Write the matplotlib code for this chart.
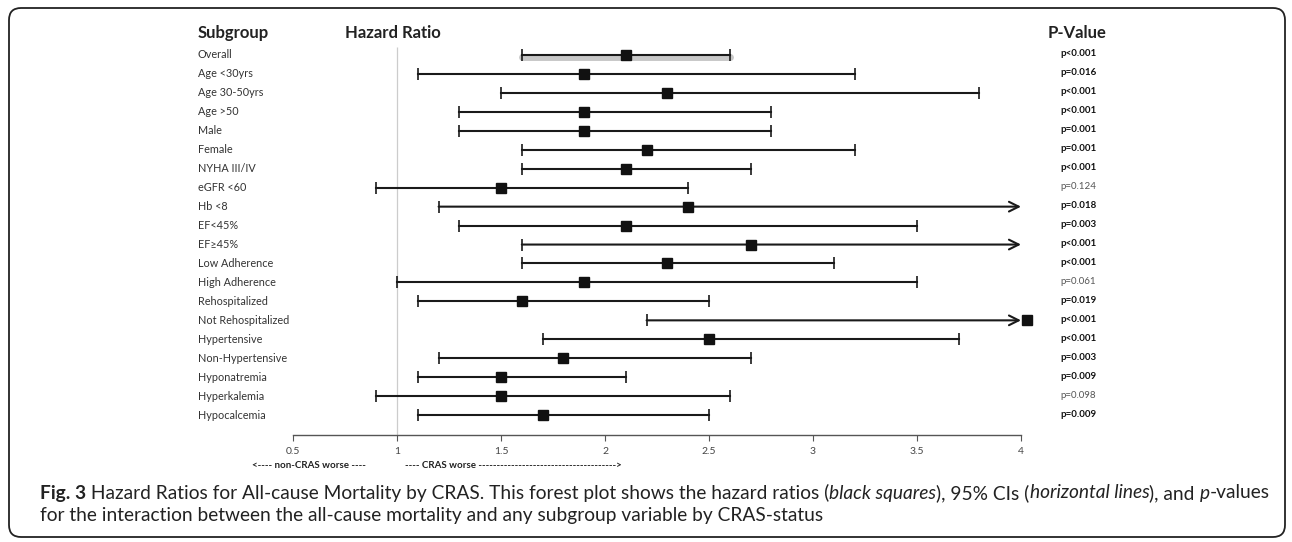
import matplotlib
matplotlib.use("Agg")
import matplotlib.pyplot as plt
import matplotlib.transforms as mtransforms
from matplotlib.patches import FancyBboxPatch
import numpy as np

# data
subgroups = ["Overall", "Age <30yrs", "Age 30-50yrs", "Age >50", "Male", "Female",
             "NYHA III/IV", "eGFR <60", "Hb <8", "EF<45%", "EF\u226545%", "Low Adherence",
             "High Adherence", "Rehospitalized", "Not Rehospitalized", "Hypertensive",
             "Non-Hypertensive", "Hyponatremia", "Hyperkalemia", "Hypocalcemia"]
hr = [2.1, 1.9, 2.3, 1.9, 1.9, 2.2, 2.1, 1.5, 2.4, 2.1, 2.7, 2.3, 1.9, 1.6, 4.03,
      2.5, 1.8, 1.5, 1.5, 1.7]
ci_low = [1.6, 1.1, 1.5, 1.3, 1.3, 1.6, 1.6, 0.9, 1.2, 1.3, 1.6, 1.6, 1.0, 1.1, 2.2,
          1.7, 1.2, 1.1, 0.9, 1.1]
# np.inf = upper limit runs off the axis (drawn as an arrow)
ci_high = [2.6, 3.2, 3.8, 2.8, 2.8, 3.2, 2.7, 2.4, np.inf, 3.5, np.inf, 3.1, 3.5, 2.5,
           np.inf, 3.7, 2.7, 2.1, 2.6, 2.5]
p_text = ["p<0.001", "p=0.016", "p<0.001", "p<0.001", "p=0.001", "p=0.001", "p<0.001",
          "p=0.124", "p=0.018", "p=0.003", "p<0.001", "p<0.001", "p=0.061", "p=0.019",
          "p<0.001", "p<0.001", "p=0.003", "p=0.009", "p=0.098", "p=0.009"]
p_num = [0.001, 0.016, 0.001, 0.001, 0.001, 0.001, 0.001, 0.124, 0.018, 0.003, 0.001,
         0.001, 0.061, 0.019, 0.001, 0.001, 0.003, 0.009, 0.098, 0.009]
xticks = [0.5, 1, 1.5, 2, 2.5, 3, 3.5, 4]

W, H = 1292, 542
FONT = ["Lato", "DejaVu Sans"]
CAP_FONT = ["Liberation Sans Narrow", "Lato", "DejaVu Sans"]
plt.rcParams["font.family"] = FONT

fig = plt.figure(figsize=(W / 100, H / 100), dpi=100)
# pixel coordinates, origin top-left
pix = mtransforms.Affine2D().scale(1 / W, -1 / H).translate(0, 1) + fig.transFigure

ax = fig.add_axes([293 / W, (H - 435) / H, 728 / W, 390 / H])
xmin, xmax = 0.5, 4
ax.set_xlim(xmin, xmax)
ax.set_ylim(20.05, -0.53)
for s in ["top", "right", "left"]:
    ax.spines[s].set_visible(False)
ax.spines["bottom"].set_color("#555555")
ax.spines["bottom"].set_linewidth(1.0)
ax.set_yticks([])
ax.set_xticks(xticks)
ax.set_xticklabels([f"{t:g}" for t in xticks])
ax.tick_params(axis="x", direction="out", length=4, width=0.8, color="#555555",
               labelsize=7.5, labelcolor="#444444", pad=5)

ax.vlines(1, 0.1 - 0.5, 20.05, color="#cccccc", lw=0.9, zorder=1)

y = np.arange(len(subgroups))
line_c = "#1a1a1a"

# shadow band behind the overall estimate
shadow = mtransforms.offset_copy(ax.transData, fig=fig, x=0, y=-2, units="dots")
ax.plot([ci_low[0], ci_high[0]], [y[0], y[0]], color="#c8c8c8", lw=5,
        solid_capstyle="round", transform=shadow, zorder=1)

for i in range(len(subgroups)):
    lo, hi, est = ci_low[i], ci_high[i], hr[i]
    if np.isinf(hi):
        ax.annotate("", xy=(xmax, y[i]), xytext=(lo, y[i]),
                    arrowprops=dict(arrowstyle="->,head_length=0.7,head_width=0.35",
                                    color=line_c, lw=1.5, shrinkA=0, shrinkB=0),
                    zorder=2, annotation_clip=False)
        ends = [lo]
    else:
        ax.plot([lo, hi], [y[i], y[i]], color=line_c, lw=1.5, zorder=2)
        ends = [lo, hi]
    ax.plot(ends, [y[i]] * len(ends), ls="none", marker="|", ms=8, mew=1.2,
            color=line_c, zorder=2)
    ax.plot([est], [y[i]], ls="none", marker="s", ms=6.8, color="#111111",
            zorder=3, clip_on=False)

# row labels and p-values
for i, name in enumerate(subgroups):
    yp = 55 + 18.95 * i
    fig.text(198, yp, name, transform=pix, fontsize=7.8, color="#333333",
             va="center", ha="left")
    sig = p_num[i] < 0.05
    fig.text(1060, yp - 1, p_text[i], transform=pix, fontsize=7,
             color="#111111" if sig else "#555555",
             fontweight="bold" if sig else "normal", va="center", ha="left")

# headers
fig.text(198, 33, "Subgroup", transform=pix, fontsize=12, fontweight="bold",
         color="#222222", va="center")
fig.text(345, 33, "Hazard Ratio", transform=pix, fontsize=12, fontweight="bold",
         color="#222222", va="center")
fig.text(1048, 33, "P-Value", transform=pix, fontsize=12, fontweight="bold",
         color="#222222", va="center")

# direction labels under the axis
fig.text(252, 466, "<---- non-CRAS worse ----", transform=pix, fontsize=7,
         fontweight="bold", color="#222222", va="center")
fig.text(405, 466, "---- CRAS worse " + "-" * 38 + ">", transform=pix, fontsize=7,
         fontweight="bold", color="#222222", va="center")

# caption, built from styled runs
cap1 = [("Fig. 3", "bold", "normal"),
        (" Hazard Ratios for All-cause Mortality by CRAS. This forest plot shows the hazard ratios (",
         "normal", "normal"),
        ("black squares", "normal", "italic"), ("), 95% CIs (", "normal", "normal"),
        ("horizontal lines", "normal", "italic"), ("), and ", "normal", "normal"),
        ("p", "normal", "italic"), ("-values", "normal", "normal")]
cap2 = [("for the interaction between the all-cause mortality and any subgroup variable by CRAS-status",
         "normal", "normal")]

renderer = fig.canvas.get_renderer()


def draw_runs(runs, x0, yp, size):
    x = x0
    arts = []
    for txt, wt, st in runs:
        t = fig.text(x, yp, txt, transform=pix, fontsize=size, fontweight=wt,
                     fontstyle=st, family=CAP_FONT, color="#222222", va="center")
        bb = t.get_window_extent(renderer)
        x += bb.width * W / fig.bbox.width
        arts.append(t)
    return x, arts


cap_size = 12
end, arts = draw_runs(cap1, 40, 493, cap_size)
scale = (1268 - 40) / (end - 40)
for a in arts:
    a.remove()
cap_size *= scale
draw_runs(cap1, 40, 493, cap_size)
draw_runs(cap2, 40, 515, cap_size)

# rounded frame around the whole figure
frame = FancyBboxPatch((9, 8), 1276, 529, boxstyle="round,pad=0,rounding_size=12",
                       transform=pix, fill=False, ec="#222222", lw=1.3)
fig.patches.append(frame)

fig.savefig("out.png", dpi=100)
